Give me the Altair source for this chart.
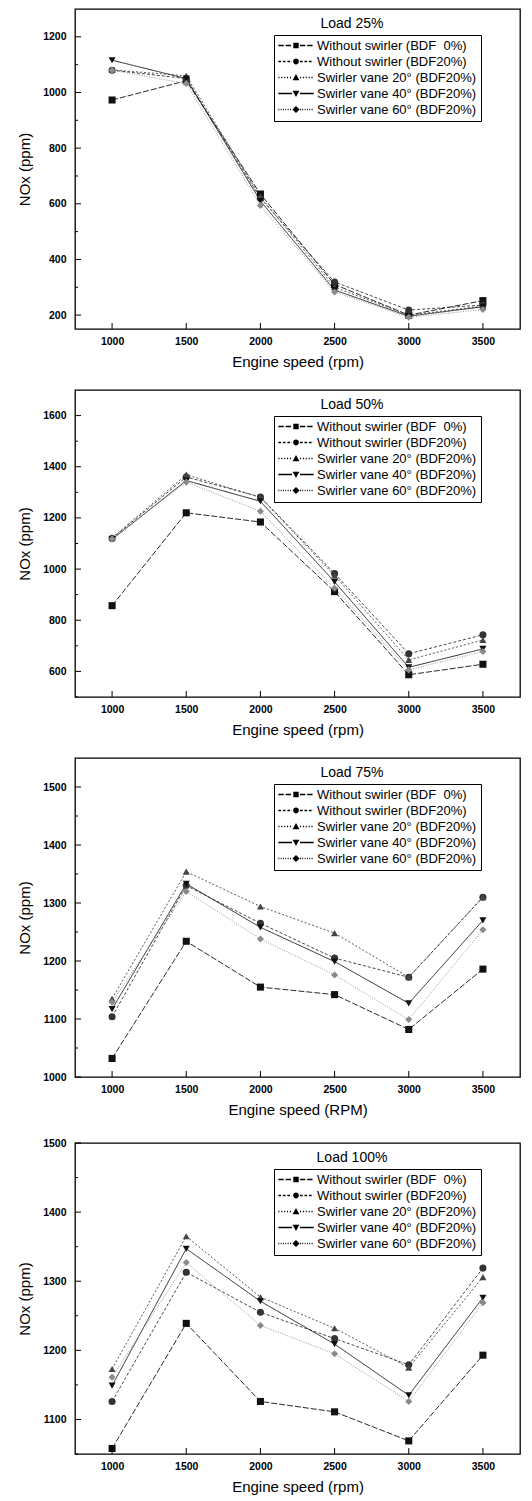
import altair as alt
import pandas as pd

FONT = "Liberation Sans"

# ---------------- data ----------------
rpm = [1000, 1500, 2000, 2500, 3000, 3500]
series = [
    "Without swirler (BDF\u00a0\u00a00%)",
    "Without swirler (BDF20%)",
    "Swirler vane 20\u00b0 (BDF20%)",
    "Swirler vane 40\u00b0 (BDF20%)",
    "Swirler vane 60\u00b0 (BDF20%)",
]

# Load 25%
l25_bdf0 = [973, 1042, 635, 310, 200, 252]
l25_bdf20 = [1080, 1050, 620, 319, 218, 236]
l25_v20 = [1081, 1060, 625, 300, 200, 232]
l25_v40 = [1116, 1050, 610, 290, 196, 230]
l25_v60 = [1080, 1032, 594, 283, 192, 220]

# Load 50%
l50_bdf0 = [857, 1220, 1184, 912, 587, 628]
l50_bdf20 = [1120, 1360, 1282, 983, 669, 743]
l50_v20 = [1122, 1369, 1280, 975, 645, 723]
l50_v40 = [1116, 1346, 1265, 950, 616, 688]
l50_v60 = [1118, 1340, 1226, 925, 606, 678]

# Load 75%
l75_bdf0 = [1032, 1234, 1155, 1142, 1082, 1186]
l75_bdf20 = [1104, 1330, 1265, 1205, 1172, 1310]
l75_v20 = [1135, 1354, 1294, 1248, 1172, 1310]
l75_v40 = [1117, 1333, 1258, 1199, 1127, 1270]
l75_v60 = [1129, 1320, 1238, 1176, 1099, 1254]

# Load 100%
l100_bdf0 = [1058, 1239, 1126, 1111, 1069, 1193]
l100_bdf20 = [1126, 1313, 1255, 1217, 1179, 1319]
l100_v20 = [1173, 1365, 1277, 1232, 1175, 1306]
l100_v40 = [1149, 1347, 1271, 1209, 1135, 1276]
l100_v60 = [1161, 1327, 1236, 1195, 1126, 1269]

# tick labels
x_ticks = [1000, 1500, 2000, 2500, 3000, 3500]
y25_ticks = [200, 400, 600, 800, 1000, 1200]
y25_minor = [300, 500, 700, 900, 1100]
y50_ticks = [600, 800, 1000, 1200, 1400, 1600]
y50_minor = [500, 700, 900, 1100, 1300, 1500]
y75_ticks = [1000, 1100, 1200, 1300, 1400, 1500]
y75_minor = [1050, 1150, 1250, 1350, 1450]
y100_ticks = [1100, 1200, 1300, 1400, 1500]
y100_minor = [1050, 1150, 1250, 1350, 1450]

# ---------------- styles ----------------
line_colors = ["#111111", "#333333", "#444444", "#111111", "#8a8a8a"]
dashes = [[6, 2], [3, 2], [2, 2], [1, 0], [1, 1.5]]
shapes = ["square", "circle", "triangle-up", "triangle-down", "diamond"]

T = 0.035  # half thickness of legend line (units)


def segs(pattern):
    out = []
    if pattern is None:
        return [(-0.98, -0.22), (0.22, 0.98)]
    d, g = pattern
    for start, end in [(-0.98, -0.22), (0.22, 0.98)]:
        a = start
        while a < end:
            b = min(a + d, end)
            out.append((a, b))
            a = b + g
    return out


def glyph(marker, pattern):
    parts = [f"M{a:.3f},{-T}H{b:.3f}V{T}H{a:.3f}Z" for a, b in segs(pattern)]
    return "".join(parts) + marker


markers = [
    "M-0.15,-0.15H0.15V0.15H-0.15Z",
    "M-0.16,0A0.16,0.16 0 1,1 0.16,0A0.16,0.16 0 1,1 -0.16,0Z",
    "M0,-0.19L0.19,0.15L-0.19,0.15Z",
    "M0,0.19L-0.19,-0.15L0.19,-0.15Z",
    "M0,-0.2L0.2,0L0,0.2L-0.2,0Z",
]
patterns = [(0.3, 0.1), (0.15, 0.1), (0.06, 0.1), None, (0.05, 0.08)]
legend_paths = [glyph(m, p) for m, p in zip(markers, patterns)]

W = 445


def make_df(cols):
    rows = []
    for s, vals in zip(series, cols):
        for r, v in zip(rpm, vals):
            rows.append({"rpm": r, "nox": v, "series": s})
    return pd.DataFrame(rows)


def panel(cols, load_text, ydom, yvals, yminor, xtitle, h):
    df = make_df(cols)
    xscale = alt.Scale(domain=[750, 3750], nice=False, zero=False)
    yscale = alt.Scale(domain=ydom, nice=False, zero=False)
    xaxis = alt.Axis(values=x_ticks, format="d", title=xtitle, ticks=False,
                     grid=False, domain=False, labelPadding=7, titlePadding=8)
    yaxis = alt.Axis(values=yvals, format="d", title="NOx (ppm)", ticks=False,
                     grid=False, domain=False, labelPadding=9, titlePadding=10)
    x = alt.X("rpm:Q", scale=xscale, axis=xaxis)
    y = alt.Y("nox:Q", scale=yscale, axis=yaxis)
    color = alt.Color("series:N", scale=alt.Scale(domain=series, range=line_colors), legend=None)
    base = alt.Chart(df)
    lines = base.mark_line(strokeWidth=0.9).encode(
        x=x, y=y, color=color, detail="series:N",
        strokeDash=alt.StrokeDash("series:N", scale=alt.Scale(domain=series, range=dashes), legend=None),
    )
    pts = base.mark_point(filled=True, size=50, opacity=1).encode(
        x=x, y=y, color=color,
        shape=alt.Shape("series:N", scale=alt.Scale(domain=series, range=shapes), legend=None),
    )
    leg = base.transform_filter("datum.rpm < 0").mark_point(filled=True, color="black").encode(
        x=x, y=y,
        shape=alt.Shape("series:N", scale=alt.Scale(domain=series, range=legend_paths),
                        legend=alt.Legend(orient="none", legendX=199, legendY=26, title=None,
                                          labelFont=FONT, labelFontSize=13, labelColor="black",
                                          symbolSize=1296, symbolStrokeWidth=0, symbolOpacity=1,
                                          symbolFillColor="black",
                                          clipHeight=13, rowPadding=2, padding=4, labelOffset=3,
                                          strokeColor="black", fillColor="white", labelLimit=300)),
    )
    txt = alt.Chart(pd.DataFrame({"t": [load_text]})).mark_text(
        font=FONT, fontSize=14, align="center", baseline="middle", color="black"
    ).encode(x=alt.value(277), y=alt.value(15), text="t:N")

    xt = alt.Chart(pd.DataFrame({"rpm": x_ticks})).mark_rule(color="black", strokeWidth=1).encode(
        x=x, y=alt.value(h), y2=alt.value(h - 6))
    yt = alt.Chart(pd.DataFrame({"nox": yvals})).mark_rule(color="black", strokeWidth=1).encode(
        y=y, x=alt.value(0), x2=alt.value(6))
    ym = alt.Chart(pd.DataFrame({"nox": yminor})).mark_rule(color="black", strokeWidth=1).encode(
        y=y, x=alt.value(0), x2=alt.value(3))

    return alt.layer(lines, pts, leg, txt, xt, yt, ym).resolve_scale(shape="independent").properties(
        width=W, height=h)


p1 = panel([l25_bdf0, l25_bdf20, l25_v20, l25_v40, l25_v60], "Load 25%", [150, 1300],
           y25_ticks, y25_minor, "Engine speed (rpm)", 320)
p2 = panel([l50_bdf0, l50_bdf20, l50_v20, l50_v40, l50_v60], "Load 50%", [500, 1700],
           y50_ticks, y50_minor, "Engine speed (rpm)", 307)
p3 = panel([l75_bdf0, l75_bdf20, l75_v20, l75_v40, l75_v60], "Load 75%", [1000, 1550],
           y75_ticks, y75_minor, "Engine speed (RPM)", 319)
p4 = panel([l100_bdf0, l100_bdf20, l100_v20, l100_v40, l100_v60], "Load 100%", [1050, 1500],
           y100_ticks, y100_minor, "Engine speed (rpm)", 311)

chart = alt.vconcat(p1, p2, p3, p4, spacing=18).properties(
    padding={"left": 8, "top": 0, "right": 2, "bottom": 0}
).configure_view(stroke="black", strokeWidth=1.3).configure_axis(
    labelFont=FONT, labelFontSize=10.5, labelFontWeight="bold", labelColor="black",
    titleFont=FONT, titleFontSize=15, titleFontWeight="normal", titleColor="black",
)

chart.save("out.html", embed_options={"renderer": "svg", "actions": False})
